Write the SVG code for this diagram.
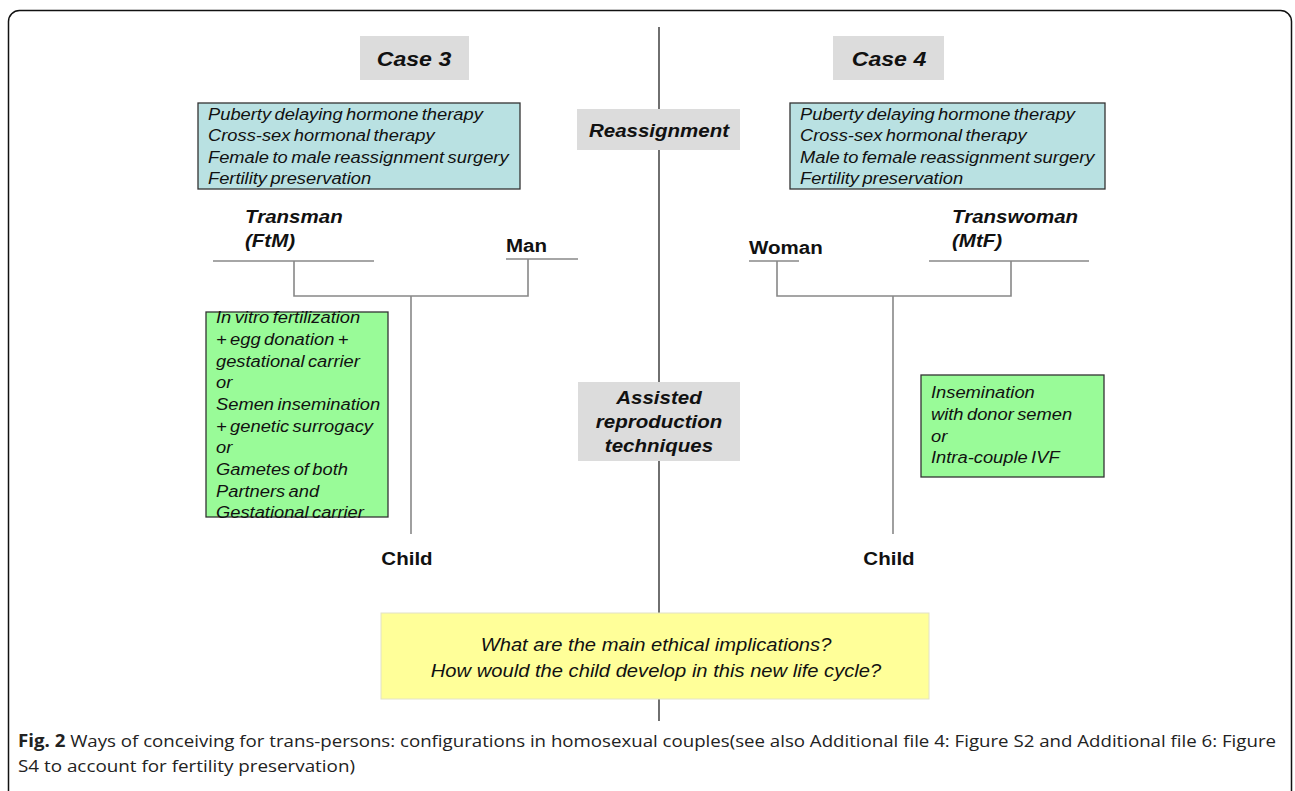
<svg xmlns="http://www.w3.org/2000/svg" width="1295" height="791" viewBox="0 0 1295 791">
<style>
.bg{fill:#ffffff}
.frame{fill:none;stroke:#111;stroke-width:1.5}
.axis{stroke:#222;stroke-width:1.3;fill:none}
.conn{stroke:#888;stroke-width:1.6;fill:none}
.grey{fill:#dcdcdc}
.blue{fill:#b9e1e2;stroke:#333;stroke-width:1.3}
.green{fill:#99fb98;stroke:#333;stroke-width:1.3}
.yellow{fill:#ffff99;stroke:#e2e2c8;stroke-width:1}
.bi{font-family:"Liberation Sans",Arial,sans-serif;font-weight:bold;font-style:italic;fill:#111}
.b{font-family:"Liberation Sans",Arial,sans-serif;font-weight:bold;fill:#111}
.it{font-family:"Liberation Sans",Arial,sans-serif;font-style:italic;fill:#111;font-size:16.5px;word-spacing:-1.5px}
.cap{font-family:"Open Sans","Noto Sans",sans-serif;font-size:17px;fill:#222}
</style>
<rect class="bg" x="0" y="0" width="1295" height="791"/>
<rect class="frame" x="8.5" y="10.5" width="1283" height="820" rx="11"/>

<g id="connectors">
<line class="axis" x1="659" y1="27" x2="659" y2="109"/>
<line class="axis" x1="659" y1="150" x2="659" y2="382"/>
<line class="axis" x1="659" y1="461" x2="659" y2="613"/>
<line class="axis" x1="659" y1="699" x2="659" y2="721"/>
<line class="conn" x1="213" y1="261" x2="374" y2="261"/>
<line class="conn" x1="506" y1="259" x2="578" y2="259"/>
<polyline class="conn" points="294,261 294,296 528,296 528,259"/>
<line class="conn" x1="411" y1="296" x2="411" y2="534"/>
<line class="conn" x1="749" y1="261" x2="799" y2="261"/>
<line class="conn" x1="929" y1="261" x2="1089" y2="261"/>
<polyline class="conn" points="777,261 777,296 1011,296 1011,261"/>
<line class="conn" x1="893" y1="296" x2="893" y2="534"/>
</g>

<g id="case3">
<rect class="grey" x="360" y="36" width="109" height="44"/>
<g transform="translate(414,0) scale(1.1,1)"><text class="bi" x="0" y="66" font-size="21" text-anchor="middle">Case 3</text></g>
</g>
<g id="case4">
<rect class="grey" x="833" y="36" width="111" height="44"/>
<g transform="translate(889,0) scale(1.1,1)"><text class="bi" x="0" y="66" font-size="21" text-anchor="middle">Case 4</text></g>
</g>
<g id="reassignment">
<rect class="grey" x="577" y="109" width="163" height="41"/>
<g transform="translate(659,0) scale(1.08,1)"><text class="bi" x="0" y="137" font-size="19" text-anchor="middle">Reassignment</text></g>
</g>
<g id="reassign-left">
<rect class="blue" x="198" y="103" width="322" height="86"/>
<g transform="translate(208,0) scale(1.11,1)">
<text class="it" x="0" y="120">Puberty delaying hormone therapy</text>
<text class="it" x="0" y="141.5">Cross-sex hormonal therapy</text>
<text class="it" x="0" y="163">Female to male reassignment surgery</text>
<text class="it" x="0" y="184.5">Fertility preservation</text>
</g>
</g>
<g id="reassign-right">
<rect class="blue" x="790" y="103" width="315" height="86"/>
<g transform="translate(800,0) scale(1.11,1)">
<text class="it" x="0" y="120">Puberty delaying hormone therapy</text>
<text class="it" x="0" y="141.5">Cross-sex hormonal therapy</text>
<text class="it" x="0" y="163">Male to female reassignment surgery</text>
<text class="it" x="0" y="184.5">Fertility preservation</text>
</g>
</g>
<g id="transman">
<g transform="translate(245,0) scale(1.08,1)">
<text class="bi" x="0" y="223" font-size="19">Transman</text>
<text class="bi" x="0" y="247" font-size="19">(FtM)</text>
</g>
</g>
<g id="man">
<g transform="translate(506,0) scale(1.08,1)"><text class="b" x="0" y="252" font-size="19">Man</text></g>
</g>
<g id="woman">
<g transform="translate(749,0) scale(1.08,1)"><text class="b" x="0" y="254" font-size="19">Woman</text></g>
</g>
<g id="transwoman">
<g transform="translate(952,0) scale(1.08,1)">
<text class="bi" x="0" y="223" font-size="19">Transwoman</text>
<text class="bi" x="0" y="247" font-size="19">(MtF)</text>
</g>
</g>
<g id="art-left">
<rect class="green" x="206" y="312" width="182" height="205"/>
<g transform="translate(216,0) scale(1.11,1)">
<text class="it" x="0" y="323">In vitro fertilization</text>
<text class="it" x="0" y="345">+ egg donation +</text>
<text class="it" x="0" y="367">gestational carrier</text>
<text class="it" x="0" y="388">or</text>
<text class="it" x="0" y="410">Semen insemination</text>
<text class="it" x="0" y="432">+ genetic surrogacy</text>
<text class="it" x="0" y="453">or</text>
<text class="it" x="0" y="475">Gametes of both</text>
<text class="it" x="0" y="497">Partners and</text>
<text class="it" x="0" y="518">Gestational carrier</text>
</g>
</g>
<g id="art">
<rect class="grey" x="578" y="382" width="162" height="79"/>
<g transform="translate(659,0) scale(1.08,1)">
<text class="bi" x="0" y="404" font-size="19" text-anchor="middle">Assisted</text>
<text class="bi" x="0" y="428" font-size="19" text-anchor="middle">reproduction</text>
<text class="bi" x="0" y="452" font-size="19" text-anchor="middle">techniques</text>
</g>
</g>
<g id="art-right">
<rect class="green" x="921" y="375" width="183" height="102"/>
<g transform="translate(931,0) scale(1.11,1)">
<text class="it" x="0" y="398">Insemination</text>
<text class="it" x="0" y="420">with donor semen</text>
<text class="it" x="0" y="442">or</text>
<text class="it" x="0" y="463">Intra-couple IVF</text>
</g>
</g>
<g id="child-left">
<g transform="translate(407,0) scale(1.08,1)"><text class="b" x="0" y="565" font-size="19" text-anchor="middle">Child</text></g>
</g>
<g id="child-right">
<g transform="translate(889,0) scale(1.08,1)"><text class="b" x="0" y="565" font-size="19" text-anchor="middle">Child</text></g>
</g>
<g id="question">
<rect class="yellow" x="381" y="613" width="548" height="86"/>
<g transform="translate(656,0) scale(1.12,1)">
<text class="it" x="0" y="651" style="font-size:18px;word-spacing:0" text-anchor="middle">What are the main ethical implications?</text>
<text class="it" x="0" y="677" style="font-size:18px;word-spacing:0" text-anchor="middle">How would the child develop in this new life cycle?</text>
</g>
</g>
<g id="caption">
<text class="cap" x="18" y="747" textLength="1258" lengthAdjust="spacingAndGlyphs"><tspan font-weight="bold">Fig. 2</tspan> Ways of conceiving for trans-persons: configurations in homosexual couples(see also Additional file 4: Figure S2 and Additional file 6: Figure</text>
<text class="cap" x="18" y="772" textLength="337" lengthAdjust="spacingAndGlyphs">S4 to account for fertility preservation)</text>
</g>
</svg>
